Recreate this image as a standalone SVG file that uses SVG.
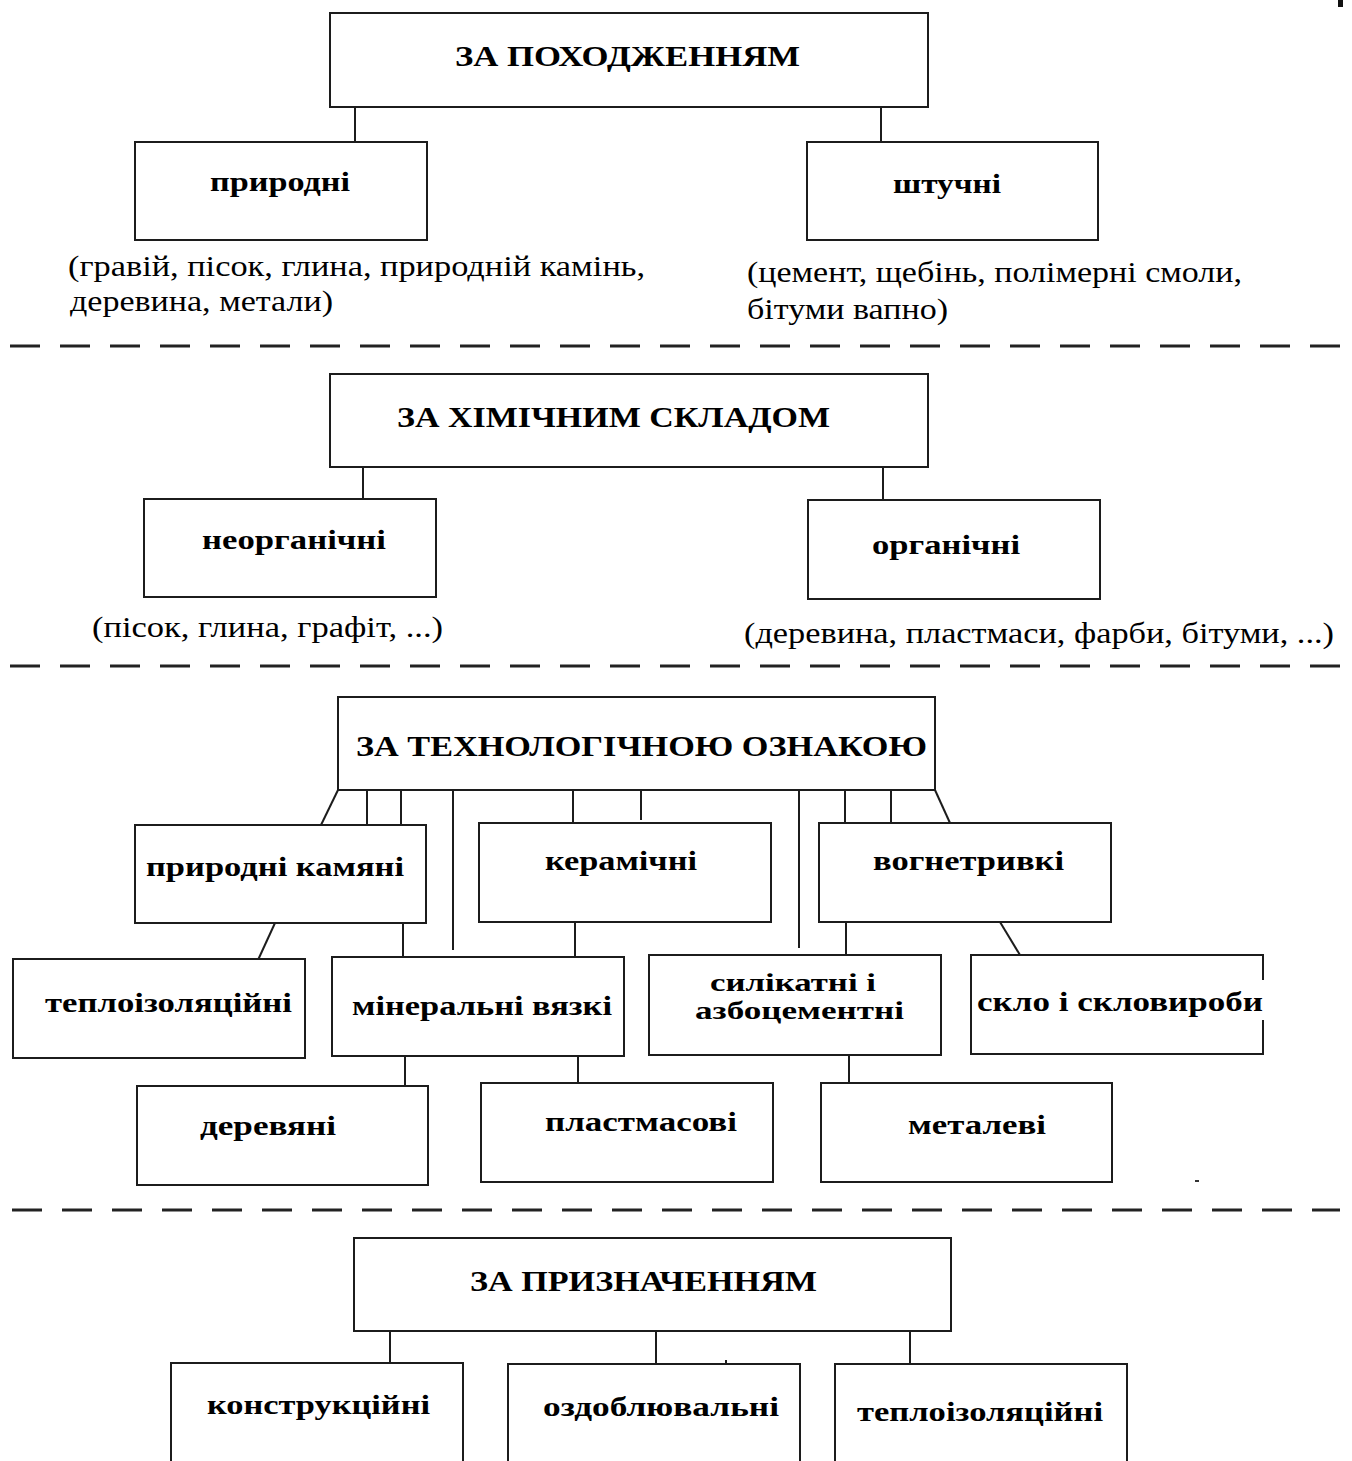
<svg xmlns="http://www.w3.org/2000/svg" width="1352" height="1461" viewBox="0 0 1352 1461">
<style>
.box{fill:#fff;stroke:#1c1c1c;stroke-width:2}
.ln{stroke:#1c1c1c;stroke-width:2;fill:none}
.dash{stroke:#222;stroke-width:3;stroke-dasharray:30 20;fill:none}
.t{font-family:"Liberation Serif","Times New Roman",serif;font-weight:bold;font-size:28px;fill:#000}
.s{font-family:"Liberation Serif","Times New Roman",serif;font-weight:bold;font-size:25px;fill:#000}
.h{font-family:"Liberation Serif","Times New Roman",serif;font-weight:bold;font-size:30px;fill:#000}
.n{font-family:"Liberation Serif","Times New Roman",serif;font-size:29px;fill:#000}
</style>
<rect width="1352" height="1461" fill="#fff"/>
<rect x="1338" y="0" width="5" height="7" fill="#111"/>

<g id="connectors">
<line class="ln" x1="355" y1="107" x2="355" y2="142"/>
<line class="ln" x1="881" y1="107" x2="881" y2="142"/>
<line class="ln" x1="363" y1="467" x2="363" y2="499"/>
<line class="ln" x1="883" y1="467" x2="883" y2="500"/>
<line class="ln" x1="338" y1="790" x2="321" y2="825"/>
<line class="ln" x1="367" y1="790" x2="367" y2="825"/>
<line class="ln" x1="401" y1="790" x2="401" y2="825"/>
<line class="ln" x1="453" y1="790" x2="453" y2="950"/>
<line class="ln" x1="573" y1="790" x2="573" y2="823"/>
<line class="ln" x1="641" y1="790" x2="641" y2="820"/>
<line class="ln" x1="799" y1="790" x2="799" y2="948"/>
<line class="ln" x1="845" y1="790" x2="845" y2="823"/>
<line class="ln" x1="891" y1="790" x2="891" y2="823"/>
<line class="ln" x1="935" y1="790" x2="950" y2="823"/>
<line class="ln" x1="275" y1="923" x2="258" y2="960"/>
<line class="ln" x1="403" y1="923" x2="403" y2="957"/>
<line class="ln" x1="575" y1="922" x2="575" y2="957"/>
<line class="ln" x1="846" y1="922" x2="846" y2="955"/>
<line class="ln" x1="1000" y1="922" x2="1020" y2="955"/>
<line class="ln" x1="405" y1="1056" x2="405" y2="1086"/>
<line class="ln" x1="578" y1="1056" x2="578" y2="1083"/>
<line class="ln" x1="849" y1="1055" x2="849" y2="1083"/>
<line class="ln" x1="390" y1="1331" x2="390" y2="1363"/>
<line class="ln" x1="656" y1="1331" x2="656" y2="1364"/>
<line class="ln" x1="910" y1="1331" x2="910" y2="1364"/>
<line class="ln" x1="726" y1="1360" x2="726" y2="1364"/>
</g>

<g id="separators">
<line class="dash" x1="10" y1="346" x2="1340" y2="346"/>
<line class="dash" x1="10" y1="666" x2="1345" y2="666"/>
<line class="dash" x1="12" y1="1210" x2="1340" y2="1210"/>
</g>

<g id="n-origin"><rect class="box" x="330" y="13" width="598" height="94"/><text class="h" x="455" y="66" textLength="345" lengthAdjust="spacingAndGlyphs">ЗА ПОХОДЖЕННЯМ</text></g>
<g id="n-natural"><rect class="box" x="135" y="142" width="292" height="98"/><text class="t" x="210" y="191" textLength="140" lengthAdjust="spacingAndGlyphs">природні</text></g>
<g id="n-artificial"><rect class="box" x="807" y="142" width="291" height="98"/><text class="t" x="893" y="193" textLength="108" lengthAdjust="spacingAndGlyphs">штучні</text></g>
<g id="note-natural"><text class="n" x="68" y="276" textLength="577" lengthAdjust="spacingAndGlyphs">(гравій, пісок, глина, природній камінь,</text><text class="n" x="70" y="311" textLength="263" lengthAdjust="spacingAndGlyphs">деревина, метали)</text></g>
<g id="note-artificial"><text class="n" x="747" y="282" textLength="495" lengthAdjust="spacingAndGlyphs">(цемент, щебінь, полімерні смоли,</text><text class="n" x="747" y="319" textLength="201" lengthAdjust="spacingAndGlyphs">бітуми вапно)</text></g>

<g id="n-chem"><rect class="box" x="330" y="374" width="598" height="93"/><text class="h" x="397" y="427" textLength="433" lengthAdjust="spacingAndGlyphs">ЗА ХІМІЧНИМ СКЛАДОМ</text></g>
<g id="n-inorg"><rect class="box" x="144" y="499" width="292" height="98"/><text class="t" x="202" y="549" textLength="184" lengthAdjust="spacingAndGlyphs">неорганічні</text></g>
<g id="n-org"><rect class="box" x="808" y="500" width="292" height="99"/><text class="t" x="872" y="554" textLength="148" lengthAdjust="spacingAndGlyphs">органічні</text></g>
<g id="note-inorg"><text class="n" x="92" y="637" textLength="351" lengthAdjust="spacingAndGlyphs">(пісок, глина, графіт, ...)</text></g>
<g id="note-org"><text class="n" x="744" y="643" textLength="590" lengthAdjust="spacingAndGlyphs">(деревина, пластмаси, фарби, бітуми, ...)</text></g>

<g id="n-tech"><rect class="box" x="338" y="697" width="597" height="93"/><text class="h" x="356" y="756" textLength="571" lengthAdjust="spacingAndGlyphs">ЗА ТЕХНОЛОГІЧНОЮ ОЗНАКОЮ</text></g>
<g id="n-stone"><rect class="box" x="135" y="825" width="291" height="98"/><text class="t" x="146" y="876" textLength="258" lengthAdjust="spacingAndGlyphs">природні камяні</text></g>
<g id="n-ceramic"><rect class="box" x="479" y="823" width="292" height="99"/><text class="t" x="545" y="870" textLength="152" lengthAdjust="spacingAndGlyphs">керамічні</text></g>
<g id="n-refract"><rect class="box" x="819" y="823" width="292" height="99"/><text class="t" x="873" y="870" textLength="191" lengthAdjust="spacingAndGlyphs">вогнетривкі</text></g>
<g id="n-insul1"><rect class="box" x="13" y="959" width="292" height="99"/><text class="t" x="45" y="1012" textLength="247" lengthAdjust="spacingAndGlyphs">теплоізоляційні</text></g>
<g id="n-binder"><rect class="box" x="332" y="957" width="292" height="99"/><text class="t" x="352" y="1015" textLength="260" lengthAdjust="spacingAndGlyphs">мінеральні вязкі</text></g>
<g id="n-silicate"><rect class="box" x="649" y="955" width="292" height="100"/><text class="s" x="710" y="991" textLength="166" lengthAdjust="spacingAndGlyphs">силікатні і</text><text class="s" x="695" y="1019" textLength="209" lengthAdjust="spacingAndGlyphs">азбоцементні</text></g>
<g id="n-glass"><path class="ln" d="M1263 980 V955 H971 V1054 H1263 V1020"/><text class="t" x="977" y="1011" textLength="286" lengthAdjust="spacingAndGlyphs">скло і скловироби</text></g>
<g id="n-wood"><rect class="box" x="137" y="1086" width="291" height="99"/><text class="t" x="200" y="1135" textLength="136" lengthAdjust="spacingAndGlyphs">деревяні</text></g>
<g id="n-plastic"><rect class="box" x="481" y="1083" width="292" height="99"/><text class="t" x="545" y="1131" textLength="192" lengthAdjust="spacingAndGlyphs">пластмасові</text></g>
<g id="n-metal"><rect class="box" x="821" y="1083" width="291" height="99"/><text class="t" x="908" y="1134" textLength="138" lengthAdjust="spacingAndGlyphs">металеві</text></g>
<rect x="1195" y="1180" width="4" height="2" fill="#333"/>

<g id="n-purpose"><rect class="box" x="354" y="1238" width="597" height="93"/><text class="h" x="470" y="1291" textLength="347" lengthAdjust="spacingAndGlyphs">ЗА ПРИЗНАЧЕННЯМ</text></g>
<g id="n-constr"><path class="ln" d="M171 1470 V1363 H463 V1470"/><text class="t" x="207" y="1414" textLength="223" lengthAdjust="spacingAndGlyphs">конструкційні</text></g>
<g id="n-finish"><path class="ln" d="M508 1470 V1364 H800 V1470"/><text class="t" x="543" y="1416" textLength="236" lengthAdjust="spacingAndGlyphs">оздоблювальні</text></g>
<g id="n-insul2"><path class="ln" d="M835 1470 V1364 H1127 V1470"/><text class="t" x="857" y="1421" textLength="246" lengthAdjust="spacingAndGlyphs">теплоізоляційні</text></g>
</svg>
